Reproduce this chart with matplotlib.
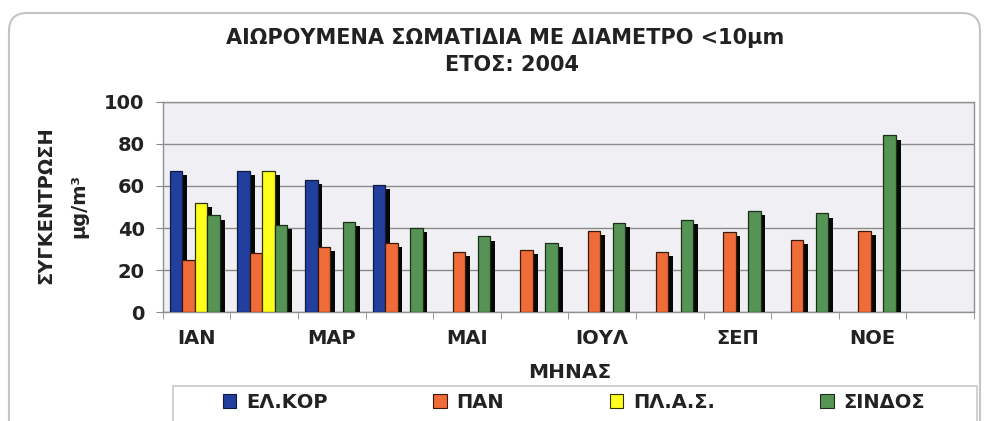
import numpy as np
import matplotlib
matplotlib.use("Agg")
import matplotlib.pyplot as plt
from matplotlib.patches import Patch, FancyBboxPatch, Rectangle
from matplotlib.transforms import IdentityTransform

nan = np.nan
months = ['ΙΑΝ', 'ΦΕΒ', 'ΜΑΡ', 'ΑΠΡ', 'ΜΑΙ', 'ΙΟΥΝ', 'ΙΟΥΛ', 'ΑΥΓ', 'ΣΕΠ', 'ΟΚΤ', 'ΝΟΕ', 'ΔΕΚ']
series_names = ['ΕΛ.ΚΟΡ', 'ΠΑΝ', 'ΠΛ.Α.Σ.', 'ΣΙΝΔΟΣ']
elkor = [67, 67, 63, 60.5, nan, nan, nan, nan, nan, nan, nan, nan]
pan = [25, 28, 31, 33, 28.5, 29.5, 38.5, 28.5, 38, 34.5, 38.5, nan]
plas = [52, 67, nan, nan, nan, nan, nan, nan, nan, nan, nan, nan]
sindos = [46, 41.5, 43, 40, 36, 33, 42.5, 44, 48, 47, 84, nan]
yticks = [0, 20, 40, 60, 80, 100]

colors = ['#223f9e', '#ef6b38', '#ffff1e', '#569456']
edges = ['#101a40', '#3a1a0a', '#303000', '#1a2e1a']

plt.rcParams['font.family'] = ['DejaVu Sans']
plt.rcParams['font.weight'] = 'bold'

W, H = 985, 421
fig = plt.figure(figsize=(W / 100, H / 100), dpi=100)
fig.patch.set_facecolor('white')

# rounded outer frame
frame = FancyBboxPatch((9, -30), 971, 408 + 30, boxstyle="round,pad=0,rounding_size=18",
                       transform=IdentityTransform(), fill=False, ec='#c4c4c4', lw=1.5)
fig.patches.append(frame)
# legend box frame
legbox = Rectangle((173, -10), 977 - 173, (H - 386) + 10, transform=IdentityTransform(),
                   fill=False, ec='#c8c8c8', lw=1.2)
fig.patches.append(legbox)

x0, x1 = 162.7, 974
yb, yt = 312.3, 101.7
ax = fig.add_axes([x0 / W, 1 - yb / H, (x1 - x0) / W, (yb - yt) / H])
ax.set_facecolor('#f0f0f4')

data = [elkor, pan, plas, sindos]
x = np.arange(len(months))
w = 0.185
shadow_dx = 0.07
z = 3
for i, vals in enumerate(data):
    v = np.array(vals, dtype=float)
    pos = x + (i - 1.5) * w - 0.025
    ax.bar(pos + shadow_dx, v - 2, width=w, color='#050805', zorder=z)
    ax.bar(pos, v, width=w, color=colors[i], edgecolor=edges[i], linewidth=0.9, zorder=z + 1)
    z += 2

FS = 14
ax.set_xlim(-0.5, len(months) - 0.5)
ax.set_ylim(0, 100)
ax.set_yticks(yticks)
ax.set_yticklabels([str(t) for t in yticks], fontsize=FS, fontweight='bold', color='#222222')
ax.set_xticks(x)
ax.set_xticklabels([m if k % 2 == 0 else '' for k, m in enumerate(months)],
                   fontsize=FS, fontweight='bold', color='#222222')
ax.set_xticks(np.arange(-0.5, len(months) + 0.5, 1), minor=True)
ax.tick_params(axis='x', which='major', length=0, pad=12)
ax.tick_params(axis='x', which='minor', length=5, color='#888888', direction='out')
ax.tick_params(axis='y', length=5, color='#888888', direction='out', pad=8)
ax.grid(axis='y', color='#8a8a8a', linewidth=1.0, zorder=1)
ax.set_axisbelow(True)
for s in ax.spines.values():
    s.set_color('#909090')
    s.set_linewidth(1.0)

# titles
fig.text(505 / W, 1 - 38 / H, 'ΑΙΩΡΟΥΜΕΝΑ ΣΩΜΑΤΙΔΙΑ ΜΕ ΔΙΑΜΕΤΡΟ <10μm', ha='center', va='center',
         fontsize=15, fontweight='bold', color='#222222')
fig.text(512 / W, 1 - 65 / H, 'ΕΤΟΣ: 2004', ha='center', va='center',
         fontsize=15, fontweight='bold', color='#222222')

# axis labels
fig.text(46 / W, 1 - 205 / H, 'ΣΥΓΚΕΝΤΡΩΣΗ', rotation=90, ha='center', va='center',
         fontsize=FS, fontweight='bold', color='#222222')
fig.text(79 / W, 1 - 206 / H, 'μg/m³', rotation=90, ha='center', va='center',
         fontsize=FS, fontweight='bold', color='#222222')
fig.text(570 / W, 1 - 372 / H, 'ΜΗΝΑΣ', ha='center', va='center',
         fontsize=14.5, fontweight='bold', color='#222222')

handles = [Patch(facecolor=c, edgecolor=e, linewidth=0.8) for c, e in zip(colors, edges)]
leg = fig.legend(handles, series_names, loc='upper left', ncol=4, mode='expand',
                 bbox_to_anchor=(214 / W, 1 - 384 / H, (934 - 214) / W, 0.0),
                 borderaxespad=0, frameon=False, handlelength=0.7,
                 handleheight=0.7, handletextpad=0.5, borderpad=0.45,
                 prop={'weight': 'bold', 'size': FS})
for t in leg.get_texts():
    t.set_color('#222222')

fig.savefig('out.png', dpi=100, facecolor='white')
